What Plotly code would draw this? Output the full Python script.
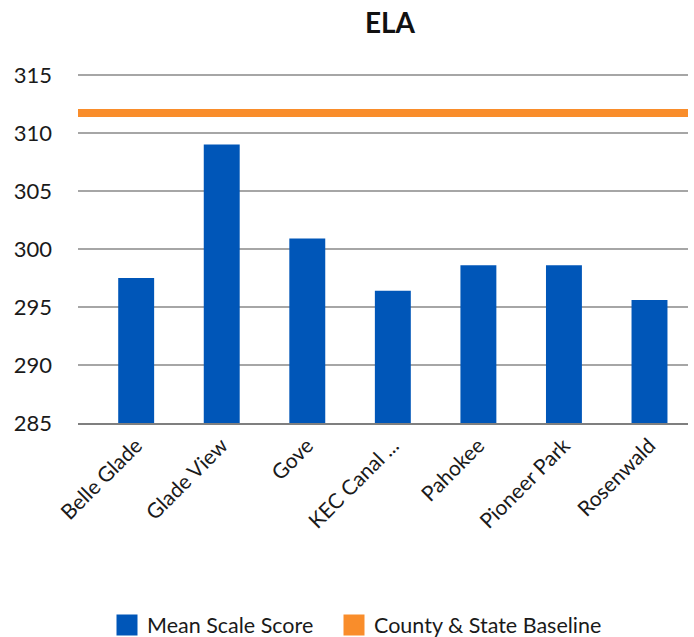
import plotly.graph_objects as go

title_text = "ELA"
schools = ["Belle Glade", "Glade View", "Gove", "KEC Canal ...", "Pahokee", "Pioneer Park", "Rosenwald"]
mean_scores = [297.5, 309.0, 300.9, 296.4, 298.6, 298.6, 295.6]
baseline_value = 311.7
y_ticks = [285, 290, 295, 300, 305, 310, 315]

BLUE = "#0056B8"
ORANGE = "#F98D2B"
FONT = "Lato, 'Open Sans', sans-serif"

fig = go.Figure()
fig.add_trace(go.Bar(
    x=schools, y=mean_scores, marker=dict(color=BLUE, line=dict(width=0)),
    name="Mean Scale Score", showlegend=False,
))
# legend entries
fig.add_trace(go.Scatter(
    x=[None], y=[None], mode="markers", name="Mean Scale Score", legend="legend",
    marker=dict(symbol="square", size=16, color=BLUE, line=dict(color=BLUE, width=5)),
))
fig.add_trace(go.Scatter(
    x=[None], y=[None], mode="markers", name="County & State Baseline", legend="legend2",
    marker=dict(symbol="square", size=16, color=ORANGE, line=dict(color=ORANGE, width=5)),
))

fig.add_shape(type="line", xref="paper", x0=0, x1=1, yref="y", y0=baseline_value, y1=baseline_value,
              line=dict(color=ORANGE, width=8), layer="above")

legend_common = dict(orientation="h", xref="container", xanchor="left",
                     y=12 / 637, yref="container", yanchor="middle",
                     font=dict(family=FONT, size=21.5, color="#1a1a1a"),
                     traceorder="normal", itemclick=False, itemdoubleclick=False)

fig.update_layout(
    width=694, height=637,
    margin=dict(l=78, r=6, t=69, b=214),
    paper_bgcolor="white", plot_bgcolor="white",
    font=dict(family=FONT, size=20, color="#1a1a1a"),
    title=dict(text="<b>" + title_text + "</b>", font=dict(family=FONT, size=28, color="#111111"),
               x=(390 - 78) / 610, xref="paper", xanchor="center",
               y=1 - 23 / 637, yref="container", yanchor="middle"),
    bargap=0.58,
    barmode="overlay",
    showlegend=True,
    legend=dict(x=107 / 694, **legend_common),
    legend2=dict(x=334 / 694, **legend_common),
    xaxis=dict(type="category", range=[-0.68, 6.45], tickangle=-45, showgrid=False,
               showline=True, linecolor="#7f7f7f", linewidth=2, ticks="", automargin=False,
               tickfont=dict(family=FONT, size=21, color="#1a1a1a")),
    yaxis=dict(range=[285, 315.5], tickvals=y_ticks, showgrid=True, gridcolor="#a6a6a6",
               gridwidth=1.5, zeroline=False, showline=False, ticks="", automargin=False,
               ticklabelstandoff=25,
               tickfont=dict(family=FONT, size=22, color="#1a1a1a")),
)

fig.write_html("out.html", config={"displayModeBar": False},
               post_script="document.body.style.margin='0';document.body.style.overflow='hidden';")
